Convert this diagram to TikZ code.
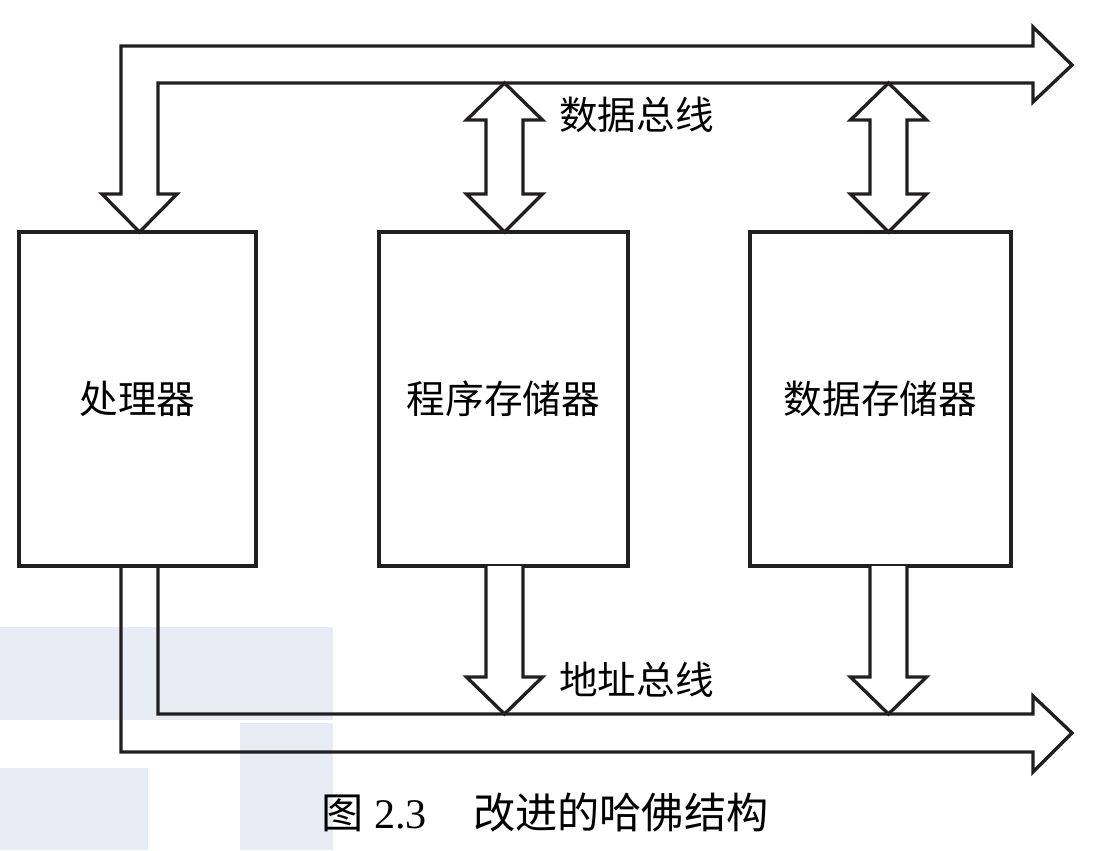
\documentclass[tikz,border=0pt]{standalone}
\usepackage{fontspec}
\setmainfont{Liberation Serif}
\newfontfamily\cjk{Noto Sans CJK SC}
\definecolor{wmblue}{RGB}{231,236,245}
\definecolor{ink}{RGB}{35,31,32}

\begin{document}
\begin{tikzpicture}[x=0.02cm, y=-0.02cm, line join=miter,
  bus/.style={draw=ink, line width=1.9pt},
  unit/.style={draw=ink, line width=1.9pt, minimum height=6.68cm,
    font=\cjk\fontsize{22}{26}\selectfont},
  busname/.style={anchor=west, font=\cjk\fontsize{22}{26}\selectfont}]
  \useasboundingbox (0,0) rectangle (1099,850);

  % faint background blocks
  \fill[wmblue] (0,627) rectangle (333,720);
  \fill[wmblue] (0,768) rectangle (148,850);
  \fill[wmblue] (240,723) rectangle (333,850);

  % units
  \node[unit, minimum width=4.74cm] (proc) at (137.5,399) {处理器};
  \node[unit, minimum width=4.98cm] (prog) at (503.5,399) {程序存储器};
  \node[unit, minimum width=5.22cm] (data) at (880.5,399) {数据存储器};

  % data bus
  \draw[bus, fill=white] (139.5,232) -- (102,194) -- (121,194) -- (121,46)
    -- (1033,46) -- (1033,27) -- (1072,65) -- (1033,102) -- (1033,83)
    -- (158,83) -- (158,194) -- (177,194) -- cycle;
  \foreach \cx in {504.5, 888.5} {
    \draw[bus, fill=white] (\cx,83) -- (\cx-38,120) -- (\cx-18.5,120)
      -- (\cx-18.5,194) -- (\cx-38,194) -- (\cx,232) -- (\cx+38,194)
      -- (\cx+18.5,194) -- (\cx+18.5,120) -- (\cx+38,120) -- cycle;
  }
  \node[busname] (dbus) at (553,115) {数据总线};

  % address bus
  \draw[bus] (121,566) -- (121,752) -- (1033,752) -- (1033,772)
    -- (1072,733) -- (1033,696) -- (1033,714) -- (158,714) -- (158,566);
  \foreach \cx in {504.5, 888.5} {
    \draw[bus, fill=white] (\cx-18.5,566) -- (\cx-18.5,677) -- (\cx-38,677)
      -- (\cx,714) -- (\cx+38,677) -- (\cx+18.5,677) -- (\cx+18.5,566);
  }
  \node[busname] (abus) at (553,680) {地址总线};

  % caption
  \node[font=\fontsize{24}{28}\selectfont] (cap) at (545,812)
    {{\cjk 图} 2.3\hspace{1.1em}{\cjk 改进的哈佛结构}};
\end{tikzpicture}
\end{document}
